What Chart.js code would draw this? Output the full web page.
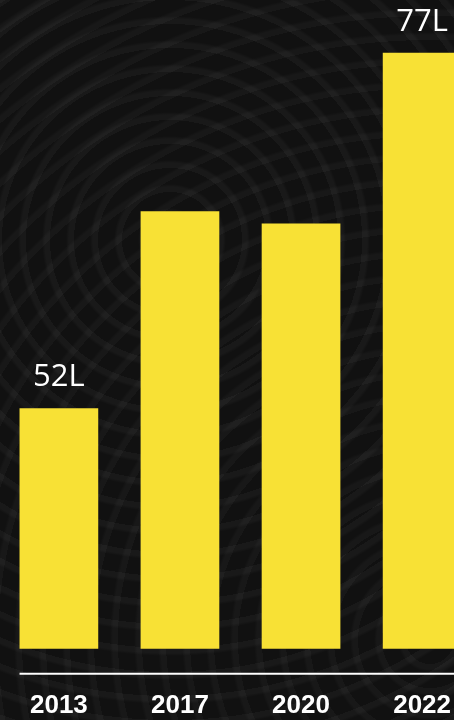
<!DOCTYPE html>
<html>
<head>
<meta charset="utf-8">
<script src="https://cdn.jsdelivr.net/npm/chart.js@4"></script>
<style>
  html, body { margin: 0; padding: 0; }
  body {
    width: 454px; height: 720px; overflow: hidden;
    background-color: #111111;
    background-image:
      repeating-radial-gradient(circle at 170px 240px, rgba(255,255,255,0.035) 0 5px, rgba(0,0,0,0) 8px 24px),
      repeating-radial-gradient(circle at 430px 640px, rgba(255,255,255,0.03) 0 5px, rgba(0,0,0,0) 8px 24px);
  }
  #wrap { position: relative; width: 454px; height: 720px; overflow: hidden; }
  #chart { position: absolute; left: -10px; top: 0; }
</style>
</head>
<body>
<div id="wrap"><canvas id="chart" width="501" height="762"></canvas></div>
<script>
  const years = ['2013', '2017', '2020', '2022'];
  const voters = [52, 65.85, 65, 77];
  const valueLabels = ['52L', '', '', '77L'];

  const barColor = '#F8E135';

  // labels above selected bars
  const barLabels = {
    id: 'barLabels',
    afterDatasetsDraw(chart) {
      const ctx = chart.ctx;
      const meta = chart.getDatasetMeta(0);
      ctx.save();
      ctx.fillStyle = '#ffffff';
      ctx.font = '31px "Open Sans", sans-serif';
      ctx.textAlign = 'center';
      ctx.textBaseline = 'alphabetic';
      meta.data.forEach((bar, i) => {
        if (valueLabels[i]) ctx.fillText(valueLabels[i], bar.x, bar.y - 22);
      });
      ctx.restore();
    }
  };

  // white base line under the bars
  const baseLine = {
    id: 'baseLine',
    afterDraw(chart) {
      const ctx = chart.ctx;
      const first = chart.getDatasetMeta(0).data[0];
      const y = chart.chartArea.bottom + 25;
      ctx.save();
      ctx.strokeStyle = '#ffffff';
      ctx.lineWidth = 2;
      ctx.beginPath();
      ctx.moveTo(first.x - first.width / 2, y);
      ctx.lineTo(chart.width, y);
      ctx.stroke();
      ctx.restore();
    }
  };

  new Chart(document.getElementById('chart'), {
    type: 'bar',
    data: {
      labels: years,
      datasets: [{
        data: voters,
        backgroundColor: barColor,
        borderWidth: 0,
        categoryPercentage: 1,
        barPercentage: 0.65
      }]
    },
    options: {
      responsive: false,
      animation: false,
      devicePixelRatio: 1,
      layout: { padding: 0 },
      plugins: {
        legend: { display: false },
        tooltip: { enabled: false }
      },
      scales: {
        x: {
          grid: { display: false, drawTicks: false },
          border: { display: false },
          ticks: {
            color: '#ffffff',
            padding: 41,
            font: { family: '"Liberation Sans", sans-serif', size: 26, weight: 'bold' }
          }
        },
        y: {
          display: false,
          min: 35.1,
          max: 80.7
        }
      }
    },
    plugins: [barLabels, baseLine]
  });
</script>
</body>
</html>
